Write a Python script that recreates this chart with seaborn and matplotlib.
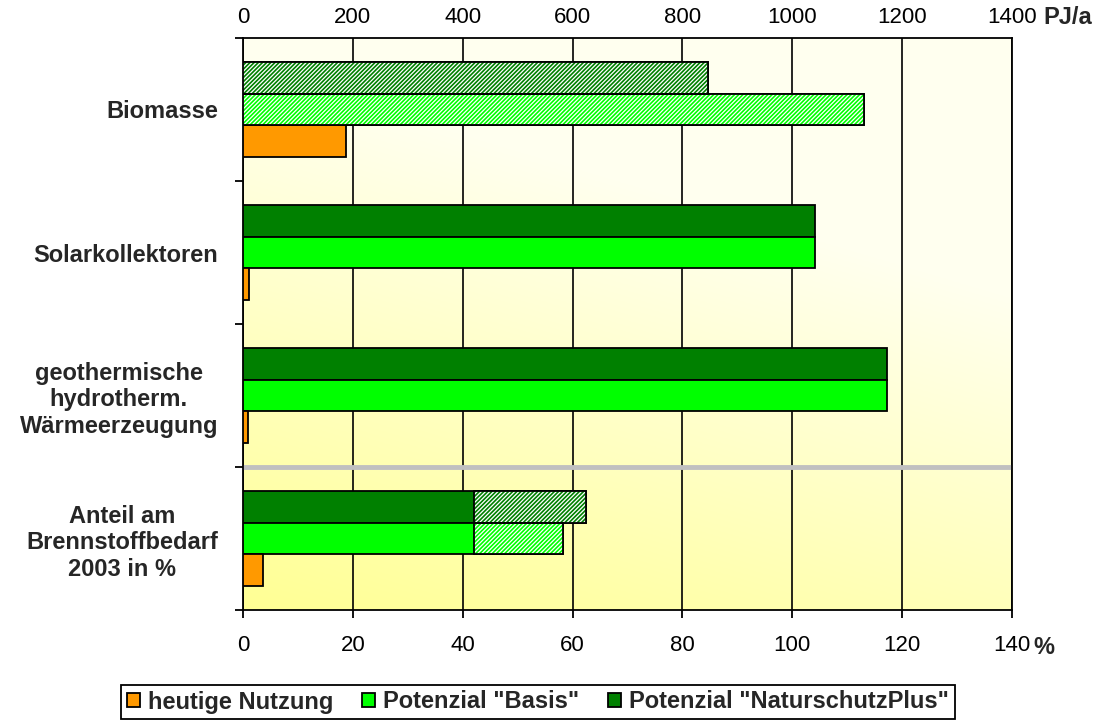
import numpy as np
import pandas as pd
import matplotlib
matplotlib.use("Agg")
import matplotlib.pyplot as plt
import seaborn as sns
from matplotlib.patches import Patch

# ---------------- data ----------------
categories = ["Biomasse", "Solarkollektoren",
              "geothermische\nhydrotherm.\nWärmeerzeugung",
              "Anteil am\nBrennstoffbedarf\n2003 in %"]
series = ['Potenzial "NaturschutzPlus"', 'Potenzial "Basis"', "heutige Nutzung"]
legend_order = ["heutige Nutzung", 'Potenzial "Basis"', 'Potenzial "NaturschutzPlus"']
# first three categories in PJ/a, last one in %
unit_is_pj = [True, True, True, False]
natur_solid = [0, 1042, 1173, 42.1]
natur_total = [847, 1042, 1173, 62.5]
basis_solid = [0, 1042, 1173, 42.1]
basis_total = [1131, 1042, 1173, 58.3]
heute_total = [188, 11, 9, 3.6]
pct_ticks = [0, 20, 40, 60, 80, 100, 120, 140]
pj_ticks = [0, 200, 400, 600, 800, 1000, 1200, 1400]

colors = {'Potenzial "NaturschutzPlus"': "#008000",
          'Potenzial "Basis"': "#00FF00",
          "heutige Nutzung": "#FF9900"}


def to_axis(vals):
    # 1400 PJ/a corresponds to 140 % on the shared scale
    return [v / 10 if pj else v for v, pj in zip(vals, unit_is_pj)]


totals = {series[0]: to_axis(natur_total), series[1]: to_axis(basis_total),
          series[2]: to_axis(heute_total)}
solids = {series[0]: to_axis(natur_solid), series[1]: to_axis(basis_solid),
          series[2]: to_axis(heute_total)}

rows = []
for s in series:
    for c, v in zip(categories, totals[s]):
        rows.append({"category": c, "series": s, "value": v})
df = pd.DataFrame(rows)

# ---------------- style ----------------
sns.set_theme(style="white")
plt.rcParams["font.family"] = ["Liberation Sans", "DejaVu Sans"]
plt.rcParams["hatch.linewidth"] = 1.2

fig = plt.figure(figsize=(11.06, 7.22), dpi=100)
ax = fig.add_axes([243 / 1106, 1 - 610 / 722, (1012 - 243) / 1106, (610 - 38) / 722])

# background gradient (yellow bottom-left -> pale top-right)
gx, gy = np.meshgrid(np.linspace(0, 1, 300), np.linspace(0, 1, 300))
t = np.clip(0.42 * gx + 1.05 * gy, 0, 1)
c0 = np.array([1.0, 1.0, 0.58])
c1 = np.array([1.0, 1.0, 0.94])
img = c0[None, None, :] * (1 - t[..., None]) + c1[None, None, :] * t[..., None]
ax.imshow(img, extent=[0, 1, 0, 1], transform=ax.transAxes, origin="lower",
          aspect="auto", zorder=0)

sns.barplot(data=df, y="category", x="value", hue="series", order=categories,
            hue_order=series, palette=colors, orient="h", width=0.67,
            saturation=1, edgecolor="black", linewidth=1.3, legend=False,
            ax=ax, zorder=3)

# hatched segments (potential beyond the solid part)
for cont, s in zip(ax.containers, series):
    for patch, sol, tot in zip(cont.patches, solids[s], totals[s]):
        if tot - sol > 1e-9:
            y0, h = patch.get_y(), patch.get_height()
            ax.barh(y0 + h / 2, tot - sol, left=sol, height=h, color="white",
                    edgecolor=colors[s], hatch="////////", linewidth=0, zorder=4)
            ax.barh(y0 + h / 2, tot - sol, left=sol, height=h, fill=False,
                    edgecolor="black", linewidth=1.3, zorder=5)

ax.set_xlim(0, 140)
ax.set_ylim(3.5, -0.5)
ax.set_xlabel("")
ax.set_ylabel("")

# grid
ax.set_xticks(pct_ticks)
ax.grid(axis="x", color="black", linewidth=1.2, zorder=1)
ax.grid(axis="y", visible=False)
ax.axhline(2.5, color="#C0C0C0", linewidth=3.5, zorder=2)

for sp in ax.spines.values():
    sp.set_visible(True)
    sp.set_color("black")
    sp.set_linewidth(1.3)

# y ticks: marks at boundaries, labels at centers
ax.set_yticks([-0.5, 0.5, 1.5, 2.5, 3.5])
ax.set_yticklabels([])
ax.set_yticks([0, 1, 2, 3], minor=True)
ax.set_yticklabels(categories, minor=True, fontsize=17, fontweight="bold",
                   multialignment="center")
ax.tick_params(axis="y", which="major", length=6, width=1.3, color="black",
               left=True, direction="out")
ax.tick_params(axis="y", which="minor", length=0, pad=18, left=True)
ax.tick_params(axis="x", which="major", length=6, width=1.3, color="black",
               bottom=True, direction="out", labelsize=16, pad=12,
               labelcolor="black")
ax.set_xticklabels([str(v) for v in pct_ticks])

# top PJ/a axis
ax2 = ax.twiny()
ax2.set_xlim(0, 1400)
ax2.set_xticks(pj_ticks)
ax2.set_xticklabels([str(v) for v in pj_ticks])
ax2.tick_params(axis="x", length=0, labelsize=16, pad=7, labelcolor="black")
for sp in ax2.spines.values():
    sp.set_visible(False)
ax2.grid(False)

fig.text(1043 / 1106, 1 - 18 / 722, "PJ/a", fontsize=17, fontweight="bold",
         ha="left", va="center")
fig.text(1033 / 1106, 1 - 647 / 722, "%", fontsize=17, fontweight="bold",
         ha="left", va="center")

handles = [Patch(facecolor=colors[s], edgecolor="black", linewidth=1.3)
           for s in legend_order]
leg = fig.legend(handles, legend_order, loc="center", ncol=3,
                 bbox_to_anchor=(538 / 1106, 1 - 702 / 722), frameon=True,
                 fancybox=False, edgecolor="black", framealpha=1,
                 handlelength=0.55, handleheight=0.55, handletextpad=0.35,
                 columnspacing=1.2, borderpad=0.25,
                 prop={"size": 17, "weight": "bold"})
leg.get_frame().set_linewidth(1.3)

fig.savefig("out.png", dpi=100)
